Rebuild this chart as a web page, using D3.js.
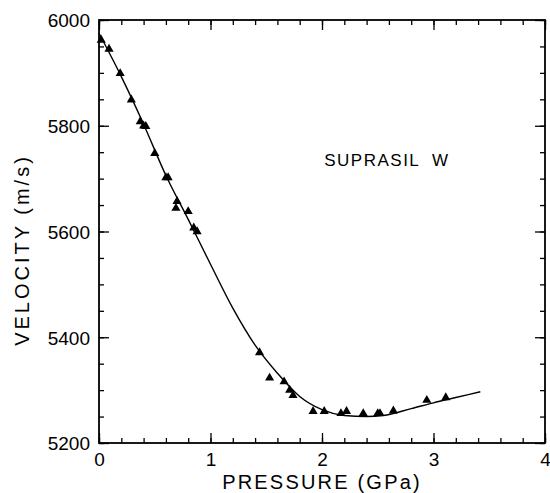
<!DOCTYPE html>
<html>
<head>
<meta charset="utf-8">
<script src="https://cdn.jsdelivr.net/npm/d3@7/dist/d3.min.js"></script>
<style>
  html, body { margin: 0; padding: 0; background: #fff; }
  svg { display: block; }
  text { font-family: "Liberation Sans", Arial, sans-serif; fill: #000; }
</style>
</head>
<body>
<script>
// Measured data points (pressure in GPa, velocity in m/s)
const pointPressure = [0.02, 0.09, 0.19, 0.29, 0.37, 0.40, 0.42, 0.50, 0.60, 0.62,
  0.70, 0.69, 0.80, 0.85, 0.88, 1.44, 1.53, 1.66, 1.71, 1.74,
  1.92, 2.02, 2.17, 2.22, 2.37, 2.50, 2.52, 2.64, 2.94, 3.11];
const pointVelocity = [5962, 5945, 5899, 5849, 5808, 5800, 5799, 5748, 5702, 5702,
  5657, 5644, 5638, 5607, 5600, 5371, 5323, 5316, 5300, 5290,
  5260, 5260, 5256, 5260, 5256, 5256, 5256, 5261, 5281, 5286];

// Fitted curve
const curvePressure = [0, 0.2, 0.4, 0.6, 0.8, 1.0, 1.2, 1.4, 1.6, 1.8, 2.0, 2.2, 2.4, 2.55, 2.8, 3.0, 3.2, 3.42];
const curveVelocity = [5975, 5893, 5803, 5706, 5623, 5538, 5455, 5385, 5332, 5288, 5263, 5252, 5250, 5252, 5265, 5276, 5286, 5297];

const xTickLabels = [0, 1, 2, 3, 4];
const yTickLabels = [5200, 5400, 5600, 5800, 6000];
const annotation = "SUPRASIL  W";
const xTitle = "PRESSURE (GPa)";
const yTitle = "VELOCITY (m/s)";

const W = 550, H = 493;
const m = { left: 99, top: 20, right: 5, bottom: 50 };
const iw = W - m.left - m.right, ih = H - m.top - m.bottom;

const svg = d3.select("body").append("svg").attr("width", W).attr("height", H);
const g = svg.append("g").attr("transform", `translate(${m.left},${m.top})`);

const x = d3.scaleLinear().domain([0, 4]).range([0, iw]);
const y = d3.scaleLinear().domain([5200, 6000]).range([ih, 0]);

const xMinor = d3.range(0, 4.0001, 0.2);
const yMinor = d3.range(5200, 6000.1, 50);
const majLen = 10, minLen = 5;

function styleAxis(sel) {
  sel.select(".domain").remove();
  sel.selectAll(".tick line").attr("stroke", "#000").attr("stroke-width", 1.3);
}

// bottom
const bx = g.append("g").attr("transform", `translate(0,${ih})`)
  .call(d3.axisBottom(x).tickValues(xMinor).tickSize(-minLen).tickFormat(""));
styleAxis(bx);
const bxM = g.append("g").attr("transform", `translate(0,${ih})`)
  .call(d3.axisBottom(x).tickValues(xTickLabels).tickSize(-majLen).tickFormat(d3.format("d")));
styleAxis(bxM);
bxM.selectAll("text").attr("font-size", 19).attr("dy", "0").attr("y", 23);

// top
const tx = g.append("g").call(d3.axisTop(x).tickValues(xMinor).tickSize(-minLen).tickFormat(""));
styleAxis(tx);
const txM = g.append("g").call(d3.axisTop(x).tickValues(xTickLabels).tickSize(-majLen).tickFormat(""));
styleAxis(txM);

// left
const ly = g.append("g").call(d3.axisLeft(y).tickValues(yMinor).tickSize(-minLen).tickFormat(""));
styleAxis(ly);
const lyM = g.append("g").call(d3.axisLeft(y).tickValues(yTickLabels).tickSize(-majLen).tickFormat(d3.format("d")));
styleAxis(lyM);
lyM.selectAll("text").attr("font-size", 19).attr("x", -9).attr("dy", "0.36em");

// right
const ry = g.append("g").attr("transform", `translate(${iw},0)`)
  .call(d3.axisRight(y).tickValues(yMinor).tickSize(-minLen).tickFormat(""));
styleAxis(ry);
const ryM = g.append("g").attr("transform", `translate(${iw},0)`)
  .call(d3.axisRight(y).tickValues(yTickLabels).tickSize(-majLen).tickFormat(""));
styleAxis(ryM);

// frame
g.append("rect").attr("x", 0).attr("y", 0).attr("width", iw).attr("height", ih)
  .attr("fill", "none").attr("stroke", "#000").attr("stroke-width", 1.8);

// curve
const curveData = curvePressure.map((p, i) => [p, curveVelocity[i]]);
g.append("path").datum(curveData)
  .attr("fill", "none").attr("stroke", "#000").attr("stroke-width", 1.4)
  .attr("d", d3.line().x(d => x(d[0])).y(d => y(d[1])).curve(d3.curveMonotoneX));

// points
const pts = pointPressure.map((p, i) => [p, pointVelocity[i]]);
g.selectAll(".pt").data(pts).enter().append("path")
  .attr("class", "pt")
  .attr("transform", d => `translate(${x(d[0])},${y(d[1])})`)
  .attr("d", d3.symbol().type(d3.symbolTriangle).size(36))
  .attr("fill", "#000");

// annotation
g.append("text").attr("x", x(2.02)).attr("y", y(5724))
  .attr("font-size", 17).attr("letter-spacing", 1.5)
  .attr("xml:space", "preserve").style("white-space", "pre")
  .text(annotation);

// axis titles
svg.append("text").attr("x", m.left + iw / 2).attr("y", 489)
  .attr("text-anchor", "middle").attr("font-size", 20).attr("letter-spacing", 2.2)
  .text(xTitle);

svg.append("text")
  .attr("transform", `translate(29,${250}) rotate(-90)`)
  .attr("text-anchor", "middle").attr("font-size", 20).attr("letter-spacing", 3)
  .text(yTitle);
</script>
</body>
</html>
